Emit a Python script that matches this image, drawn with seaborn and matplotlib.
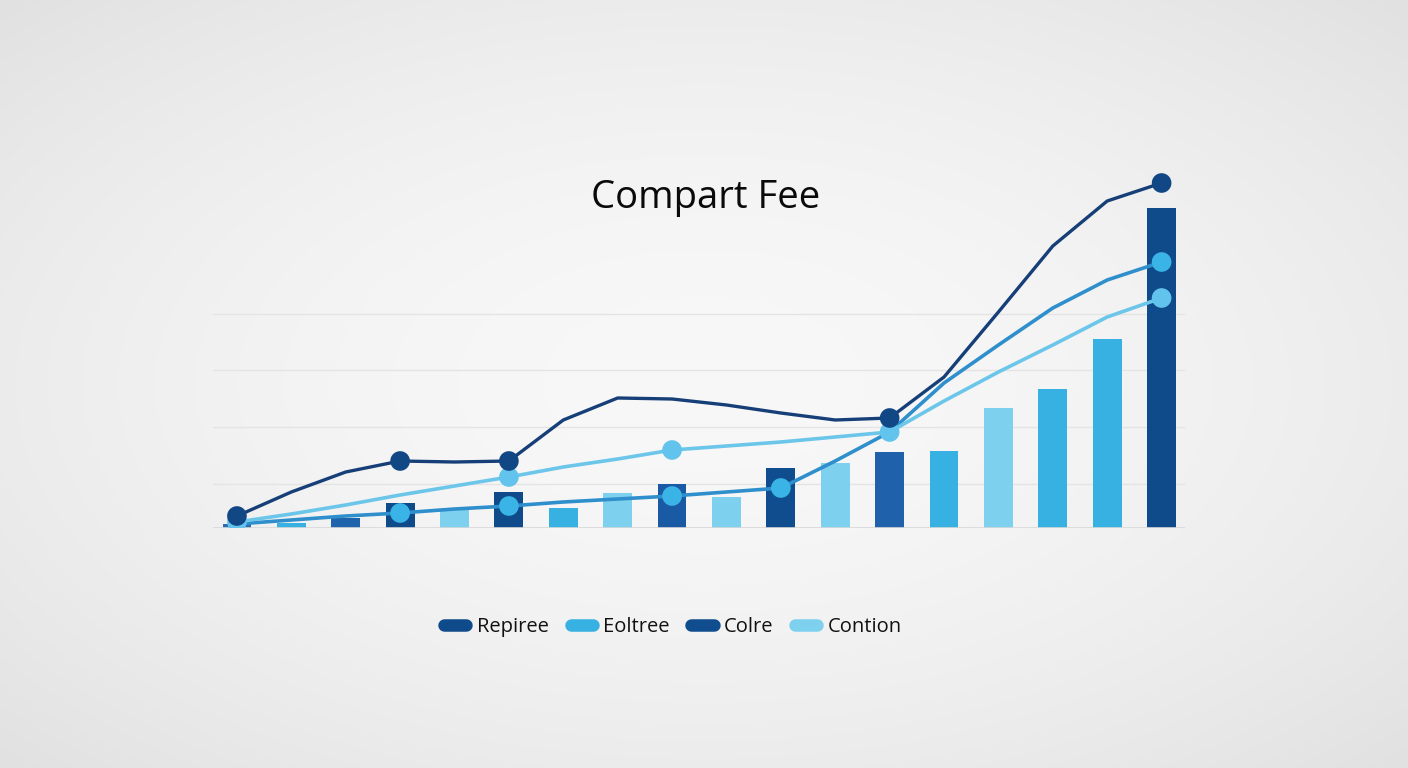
import numpy as np
import pandas as pd
import matplotlib
matplotlib.use("Agg")
import matplotlib.pyplot as plt
from matplotlib.lines import Line2D
import seaborn as sns

# data (heights above baseline)
positions = list(range(18))
bar_values = [4, 5, 10, 25, 18, 36, 20, 35, 44, 31, 60, 65, 76, 77, 120, 139, 189, 320]
bar_colors = ["#2a6cb0", "#37b0e2", "#1f63ad", "#0f4a8a", "#7dd0ee", "#0f4a8a",
              "#37b0e2", "#7dd0ee", "#1a5aa5", "#7dd0ee", "#104d8e", "#7dd0ee",
              "#1f62ab", "#37b0e2", "#7dd0ee", "#37b0e2", "#37b0e2", "#0f4a8a"]

line_a = [12, 36, 56, 67, 66, 67, 108, 130, 129, 123, 115, 108, 110, 151, 216, 282, 327, 345]
line_b = [6, 14, 23, 33, 42, 51, 61, 69, 78, 82, 86, 91, 96, 127, 156, 183, 211, 230]
line_c = [4, 8, 12, 15, 19, 22, 26, 29, 32, 36, 40, 67, 96, 145, 183, 220, 248, 266]
marks_a = [0, 3, 5, 12, 17]
marks_b = [0, 5, 8, 12, 17]
marks_c = [3, 5, 8, 10, 17]

title = "Compart Fee"
legend_labels = ["Repiree", "Eoltree", "Colre", "Contion"]
legend_colors = ["#0f4a8a", "#37b0e2", "#104d8e", "#7dd0ee"]

sns.set_theme(style="white")
plt.rcParams["font.family"] = ["Open Sans", "DejaVu Sans"]

fig = plt.figure(figsize=(14.08, 7.68), dpi=100)

# soft radial background
bg = fig.add_axes([0, 0, 1, 1], zorder=-10)
yy, xx = np.mgrid[-1:1:300j, -1:1:550j]
r = np.sqrt(xx ** 2 + yy ** 2) / np.sqrt(2)
shade = 0.972 - 0.09 * r ** 1.8
bg.imshow(np.dstack([shade, shade, shade + 0.004]).clip(0, 1), extent=[0, 1, 0, 1], aspect="auto")
bg.axis("off")

ax = fig.add_axes([213 / 1408, 240 / 768, 972 / 1408, 358 / 768])
ax.set_facecolor("none")

df = pd.DataFrame({"pos": positions, "value": bar_values})
sns.barplot(data=df, x="pos", y="value", hue="pos", palette=bar_colors,
            legend=False, width=0.53, saturation=1, linewidth=0, ax=ax, zorder=2)

for vals, marks, lc, mc, lw in [
    (line_c, marks_c, "#2f8fcc", "#3ab4e6", 2.6),
    (line_b, marks_b, "#6cc6ea", "#62c4ec", 2.6),
    (line_a, marks_a, "#163f78", "#124785", 2.4),
]:
    sns.lineplot(x=positions, y=vals, color=lc, lw=lw, ax=ax, zorder=4)
    sns.scatterplot(x=[positions[i] for i in marks], y=[vals[i] for i in marks],
                    color=mc, s=200, edgecolor="none", ax=ax, zorder=5)

ax.set_xlim(-0.44, 17.43)
ax.set_ylim(0, 358)
for g in [44, 101, 158, 214]:
    ax.axhline(g, color="#e4e4e4", lw=1, zorder=1)
ax.axhline(0, color="#d8d8d8", lw=1.2, zorder=3)
ax.set_xticks([])
ax.set_yticks([])
ax.set_xlabel("")
ax.set_ylabel("")
sns.despine(ax=ax, left=True, bottom=True)

fig.text(706 / 1408, 1 - 198 / 768, title, ha="center", va="center",
         fontsize=27.5, color="#0a0a0a")

handles = [Line2D([0], [0], color=c, lw=9, solid_capstyle="round") for c in legend_colors]
fig.legend(handles, legend_labels, loc="center", bbox_to_anchor=(673 / 1408, 1 - 627 / 768),
           ncol=4, frameon=False, fontsize=14.5, handlelength=1.1, handletextpad=0.5,
           columnspacing=1.1, labelcolor="#111111")

fig.savefig("out.png", dpi=100)
